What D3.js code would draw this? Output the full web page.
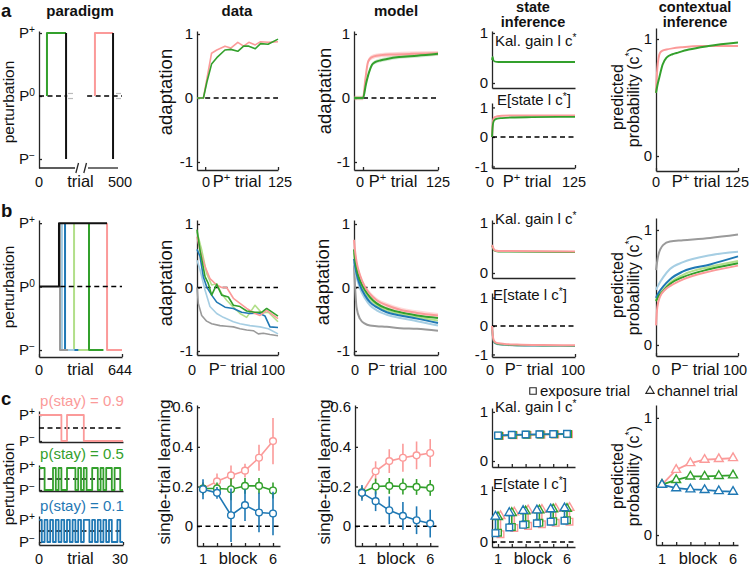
<!DOCTYPE html>
<html><head><meta charset="utf-8">
<script src="https://cdn.jsdelivr.net/npm/d3@7"></script>
<style>
body{margin:0;background:#fff;}
svg{display:block;font-family:"Liberation Sans",Arial,Helvetica,sans-serif;}
.axis .domain,.axis line{stroke:#262626;stroke-width:1.3;}
.axis text{font-size:15px;fill:#111;font-family:"Liberation Sans",Arial,sans-serif;}
</style></head><body>
<script>
// ================= DATA =================
// ---- row a : P+ exposure ----
const parA_greenTrials=[48,48,163], parA_greenVals=[0,1,1];
const parA_pinkTrials=[337,337,446], parA_pinkVals=[0,1,1];
const parA_drop1=[163,163], parA_drop2=[446,446], parA_dropVals=[1,-1];
const parA_dash1=[0,170], parA_dash2=[290,500];
const parA_axisSegs=[[0,217],[295,476]];
const parA_grayMarks=[[175,205],[464,494]];

const dataA_pinkT=[-14,-3,11,20,34,44,56,66,75,86,95,108,125];
const dataA_pinkV=[0,0,0.70,0.75,0.81,0.78,0.87,0.81,0.87,0.83,0.88,0.87,0.88];
const dataA_greenT=[-14,-3,3,11,20,34,44,56,66,75,86,95,108,125];
const dataA_greenV=[0,0,0.25,0.53,0.63,0.75,0.76,0.73,0.81,0.81,0.77,0.85,0.84,0.92];

const modelA_pinkT=[-15,0,4,8,12,18,30,50,80,125];
const modelA_pinkV=[0,0,0.3,0.55,0.62,0.65,0.67,0.68,0.69,0.70];
const modelA_greenT=[-15,0,5,10,15,20,30,40,60,90,125];
const modelA_greenV=[0,0,0.22,0.4,0.52,0.56,0.59,0.61,0.64,0.66,0.69];

const stateA_kalT=[0,1,2,4,10,125];
const stateA_kalGreen=[0.46,0.52,0.46,0.43,0.42,0.42];
const stateA_eT=[0,1,2,4,8,15,30,60,125];
const stateA_ePink=[0,0.45,0.6,0.67,0.7,0.72,0.73,0.73,0.73];
const stateA_eGreen=[0,0.35,0.5,0.58,0.62,0.64,0.66,0.67,0.68];

const ctxA_pinkT=[0,1,2,4,6,10,16,25,40,70,125];
const ctxA_pinkV=[0.54,0.66,0.75,0.84,0.88,0.9,0.91,0.92,0.93,0.94,0.94];
const ctxA_greenT=[0,2,5,10,16,25,31,50,80,125];
const ctxA_greenV=[0.54,0.6,0.67,0.78,0.84,0.87,0.88,0.91,0.94,0.97];

// ---- row b : P- after P+ of varying length (gray, light blue, blue, light green, green, pink) ----
const parB_switch=[163,178,202,272,388,528];
const parB_stop=[225,275,305,380,500,644];
const parB_blackT=[0,155,155,528], parB_blackV=[0,0,1,1];
const parB_dash=[165,644];

const dataB_grayT=[0,1.6,5.8,11.9,18.1,28.4,36.6,44.9,53.1,61.3,69.5,75.7,81.9,90.1,100];
const dataB_grayV=[0,-0.25,-0.44,-0.53,-0.57,-0.6,-0.61,-0.62,-0.65,-0.67,-0.68,-0.73,-0.72,-0.74,-0.76];
const dataB_lblueT=[0,3.7,9.9,16,24.3,32.5,44.9,53.1,65.4,77.8,88.1,100];
const dataB_lblueV=[0.43,0.28,-0.04,-0.3,-0.41,-0.47,-0.54,-0.57,-0.6,-0.62,-0.65,-0.73];
const dataB_blueT=[0,3.7,7.8,11.9,18.1,24.3,34.6,44.9,55.1,65.4,75.7,84,90.1,100];
const dataB_blueV=[0.6,0.49,0.17,0.01,-0.12,-0.23,-0.31,-0.33,-0.39,-0.41,-0.4,-0.45,-0.62,-0.63];
const dataB_lgreenT=[0,5.8,11.9,18.1,24.3,30.5,36.6,44.9,53.1,61.3,71.6,79.8,88.1,100];
const dataB_lgreenV=[0.88,0.59,0.22,0.04,0.06,-0.1,-0.2,-0.31,-0.41,-0.47,-0.28,-0.4,-0.39,-0.54];
const dataB_greenT=[0,3.7,9.9,14,18.1,24.3,30.5,38.7,44.9,53.1,61.3,71.6,79.8,86,100];
const dataB_greenV=[0.91,0.59,0.17,0.06,-0.12,0.05,-0.12,-0.15,-0.28,-0.3,-0.37,-0.39,-0.39,-0.33,-0.45];
const dataB_pinkT=[0,3.7,9.9,16,24.3,30.5,36.6,44.9,53.1,61.3,71.6,77.8,86,100];
const dataB_pinkV=[0.8,0.59,0.33,0.14,0.04,0,0,-0.17,-0.25,-0.33,-0.41,-0.44,-0.36,-0.49];

const modelB_T=[0,1.5,3,7,13,19,27,39,55,75,100];
const modelB_gray=[0.35,-0.04,-0.31,-0.49,-0.57,-0.6,-0.61,-0.62,-0.64,-0.65,-0.68];
const modelB_lblue=[0.4,0.27,0.17,-0.01,-0.17,-0.28,-0.36,-0.43,-0.48,-0.53,-0.6];
const modelB_blue=[0.45,0.32,0.22,0.04,-0.12,-0.23,-0.31,-0.39,-0.44,-0.49,-0.56];
const modelB_lgreen=[0.55,0.38,0.27,0.09,-0.07,-0.18,-0.28,-0.36,-0.42,-0.47,-0.52];
const modelB_green=[0.6,0.42,0.3,0.12,-0.04,-0.15,-0.25,-0.33,-0.39,-0.44,-0.48];
const modelB_pink=[0.75,0.55,0.41,0.2,0.01,-0.1,-0.2,-0.28,-0.35,-0.4,-0.44];

const stateB_kalT=[0,1,2,4,8,100];
const stateB_kalPink=[0.56,0.52,0.48,0.45,0.44,0.43];
const stateB_kalGreen=[0.55,0.51,0.47,0.44,0.43,0.42];
const stateB_eT=[0,1,2,4,8,15,30,60,100];
const stateB_ePink=[0,-0.35,-0.5,-0.57,-0.61,-0.63,-0.65,-0.67,-0.68];
const stateB_eGreen=[0,-0.38,-0.53,-0.6,-0.64,-0.66,-0.68,-0.69,-0.7];
const stateB_eBlue=[0,-0.4,-0.55,-0.62,-0.65,-0.67,-0.69,-0.7,-0.71];

const ctxB_T=[0,2.8,8.9,17,33,66,100];
const ctxB_gray=[0.65,0.78,0.87,0.9,0.91,0.93,0.96];
const ctxB_lblue=[0.48,0.52,0.59,0.66,0.72,0.78,0.81];
const ctxB_blue=[0.41,0.45,0.51,0.57,0.64,0.7,0.77];
const ctxB_lgreen=[0.39,0.43,0.48,0.54,0.61,0.68,0.73];
const ctxB_green=[0.38,0.42,0.47,0.53,0.59,0.66,0.71];
const ctxB_pinkT=[0,1.6,4.9,11,19,33,66,100];
const ctxB_pink=[0.17,0.33,0.42,0.48,0.52,0.57,0.64,0.69];

// ---- row c : volatility (p(stay) = 0.9 pink, 0.5 green, 0.1 blue) ----
const stay09=[1,1,1,1,1,1,1,1,0,0,1,1,1,1,1,1,0,0,0,0,0,0,0,0,0,0,0,0,0,0];
const stay05=[1,1,0,0,0,1,0,1,0,0,1,1,1,0,1,0,1,0,0,1,1,0,1,0,1,1,0,1,1,0];
const stay01=[1,0,1,0,1,0,1,0,1,0,1,0,1,0,1,0,1,1,0,1,0,1,0,1,0,1,0,0,1,0];

const blocks=[1,2,3,4,5,6];
const dataC_pink=[0.19,0.226,0.256,0.28,0.345,0.429];
const dataC_pinkErr=[0.03,0.04,0.05,0.035,0.065,0.117];
const dataC_green=[0.19,0.19,0.186,0.203,0.203,0.18];
const dataC_greenErr=[0.03,0.03,0.055,0.04,0.04,0.04];
const dataC_blue=[0.186,0.168,0.055,0.106,0.069,0.064];
const dataC_blueErr=[0.05,0.03,0.135,0.08,0.1,0.11];

const modelC_pink=[0.168,0.277,0.328,0.345,0.357,0.369];
const modelC_pinkErr=[0.03,0.05,0.06,0.07,0.07,0.07];
const modelC_green=[0.17,0.2,0.203,0.2,0.198,0.193];
const modelC_greenErr=[0.03,0.04,0.04,0.04,0.04,0.04];
const modelC_blue=[0.168,0.126,0.08,0.052,0.03,0.013];
const modelC_blueErr=[0.04,0.05,0.07,0.07,0.07,0.07];

const stateC_kalBlue=[0.52,0.535,0.54,0.545,0.55,0.555];
const stateC_kalGreen=[0.515,0.53,0.535,0.54,0.545,0.55];
const stateC_kalPink=[0.51,0.525,0.53,0.535,0.54,0.545];
const stateC_expBlue=[0.17,0.28,0.33,0.36,0.39,0.41];
const stateC_expGreen=[0.18,0.29,0.34,0.37,0.40,0.42];
const stateC_expPink=[0.15,0.27,0.31,0.34,0.37,0.39];
const stateC_chBlue=[0.49,0.56,0.60,0.61,0.63,0.65];
const stateC_chGreen=[0.48,0.56,0.59,0.61,0.63,0.64];
const stateC_chPink=[0.50,0.57,0.61,0.62,0.64,0.66];

const ctxC_pink=[0.43,0.557,0.614,0.643,0.649,0.657];
const ctxC_green=[0.43,0.47,0.5,0.5,0.505,0.51];
const ctxC_blue=[0.43,0.40,0.39,0.385,0.375,0.37];

// ================= STYLE / HELPERS =================
const cPink="#fb9a99",cGreen="#33a02c",cBlue="#1f78b4",cLBlue="#a6cee3",cLGreen="#b2df8a",cGray="#9a9a9a";
const colorsB=[cGray,cLBlue,cBlue,cLGreen,cGreen,cPink];
const NUM=14.5, WORD=16.5;
const svg=d3.select("body").append("svg").attr("width",750).attr("height",566);

function panel(c){
  const x=d3.scaleLinear().domain(c.xd).range([c.l,c.r]);
  const y=d3.scaleLinear().domain(c.yd).range([c.b,c.t]);
  const g=svg.append("g");
  g.append("g").attr("class","axis").attr("transform",`translate(${c.l},0)`)
    .call(d3.axisLeft(y).tickValues(c.yt||[]).tickSize(-3).tickSizeOuter(0).tickPadding(4)
      .tickFormat(c.noYLab?()=>"":d=>String(d)));
  if(!c.noX) g.append("g").attr("class","axis").attr("transform",`translate(0,${c.b})`)
    .call(d3.axisBottom(x).tickValues(c.xt||[]).tickSize(-3).tickSizeOuter(0).tickFormat(()=>""));
  return {x,y,g};
}
function line(p,xs,ys,color,w,o={}){
  const gen=d3.line().x((d,i)=>p.x(xs[i])+(o.dx||0)).y((d,i)=>p.y(ys[i])+(o.dy||0));
  if(o.curve) gen.curve(o.curve);
  return p.g.append("path").attr("d",gen(xs)).attr("fill","none").attr("stroke",color)
    .attr("stroke-width",w).attr("stroke-dasharray",o.dash||null).attr("stroke-linejoin","round")
    .attr("opacity",o.op||1);
}
function band(p,xs,ys,hw,color,op){
  const gen=d3.area().x((d,i)=>p.x(xs[i])).y0((d,i)=>p.y(ys[i]-hw)).y1((d,i)=>p.y(ys[i]+hw)).curve(d3.curveMonotoneX);
  p.g.append("path").attr("d",gen(xs)).attr("fill",color).attr("opacity",op);
}
function zero(p,x0,x1){line(p,[x0,x1],[0,0],"#000",1.5,{dash:"5,3.5"});}
function label(x,y,parts,o={}){
  const size=o.size||14;
  const t=svg.append("text").attr("x",x).attr("y",y).attr("font-size",size)
    .attr("text-anchor",o.anchor||"middle").attr("font-weight",o.bold?"bold":null)
    .attr("fill",o.color||"#111");
  if(o.rot) t.attr("transform",`rotate(-90 ${x} ${y})`);
  (Array.isArray(parts)?parts:[parts]).forEach(s=>{
    if(typeof s==="string") t.append("tspan").text(s);
    else t.append("tspan").attr("baseline-shift","super").attr("font-size",size*0.68).text(s.s);
  });
  return t;
}
function markers(p,type,size,xs,ys,color,dx=0){
  p.g.selectAll(null).data(xs).enter().append("path")
    .attr("d",d3.symbol(type,size))
    .attr("transform",(d,i)=>`translate(${p.x(xs[i])+dx},${p.y(ys[i])})`)
    .attr("fill","#fff").attr("stroke",color).attr("stroke-width",1.4);
}
function errbars(p,xs,ys,es,color){
  xs.forEach((b,i)=>{
    p.g.append("line").attr("x1",p.x(b)).attr("x2",p.x(b))
      .attr("y1",p.y(ys[i]-es[i])).attr("y2",p.y(ys[i]+es[i]))
      .attr("stroke",color).attr("stroke-width",1.6);
  });
}
function xlabels(items,y){
  items.forEach(it=>label(it.x,y,it.t,{size:it.big?WORD:NUM}));
}
const PP=["P",{s:"+"}], PM=["P",{s:"\u2212"}], P0=["P",{s:"0"}];
function pLabels(p,vals,labs){vals.forEach((v,i)=>label(35,p.y(v)+5,labs[i],{anchor:"end",size:15}));}

// ================= TITLES =================
label(1,16.5,"a",{anchor:"start",bold:true,size:18.5});
label(1,216.5,"b",{anchor:"start",bold:true,size:18.5});
label(1,405,"c",{anchor:"start",bold:true,size:18.5});
label(80,15.5,"paradigm",{bold:true,size:15});
label(237,15.5,"data",{bold:true,size:15});
label(396,15.5,"model",{bold:true,size:15});
label(533,11.5,"state",{bold:true,size:14.5});
label(533,27,"inference",{bold:true,size:14.5});
label(695,11.5,"contextual",{bold:true,size:14.5});
label(695,27,"inference",{bold:true,size:14.5});

// ================= ROW A =================
const pA=panel({l:39,r:122,xd:[0,500],b:168,t:31,yd:[-1.143,1.032],yt:[-1,0,1],noYLab:true,noX:true});
parA_axisSegs.forEach(s=>line(pA,s,[-1.143,-1.143],"#262626",1.3));
[[222,238],[270,286]].forEach(s=>pA.g.append("line").attr("x1",pA.x(s[0])).attr("x2",pA.x(s[1]))
  .attr("y1",173).attr("y2",163).attr("stroke","#262626").attr("stroke-width",1.3));
line(pA,parA_dash1,[0,0],"#000",1.5,{dash:"5,3.5"});
line(pA,parA_dash2,[0,0],"#000",1.5,{dash:"5,3.5"});
parA_grayMarks.forEach(s=>{line(pA,s,[0.04,0.04],"#bbb",1.2);line(pA,s,[-0.04,-0.04],"#bbb",1.2);});
line(pA,parA_greenTrials,parA_greenVals,cGreen,2);
line(pA,parA_pinkTrials,parA_pinkVals,cPink,2);
line(pA,parA_drop1,parA_dropVals,"#111",2);
line(pA,parA_drop2,parA_dropVals,"#111",2);
pLabels(pA,[1,0,-1],[PP,P0,PM]);
label(14,102,"perturbation",{rot:true,size:15.5});
xlabels([{x:39,t:"0"},{x:80.5,t:"trial",big:1},{x:120,t:"500"}],186.5);

const dA=panel({l:197,r:278,xd:[-14,125],b:170,t:31,yd:[-1.125,1.047],yt:[-1,0,1],xt:[0,125]});
zero(dA,0,125);
line(dA,dataA_pinkT,dataA_pinkV,cPink,1.6);
line(dA,dataA_greenT,dataA_greenV,cGreen,1.6);
label(172,92,"adaptation",{rot:true,size:18.5});
xlabels([{x:206,t:"0"},{x:237,t:["P",{s:"+"}," trial"],big:1},{x:280,t:"125"}],186.5);

const mA=panel({l:354,r:438,xd:[-15,125],b:170,t:31,yd:[-1.125,1.047],yt:[-1,0,1],xt:[0,125]});
zero(mA,0,125);
band(mA,modelA_pinkT,modelA_pinkV,0.035,cPink,0.4);
band(mA,modelA_greenT,modelA_greenV,0.03,cGreen,0.2);
line(mA,modelA_pinkT,modelA_pinkV,cPink,2,{curve:d3.curveMonotoneX});
line(mA,modelA_greenT,modelA_greenV,cGreen,2,{curve:d3.curveMonotoneX});
label(331,91,"adaptation",{rot:true,size:18.5});
xlabels([{x:360,t:"0"},{x:393,t:["P",{s:"+"}," trial"],big:1},{x:438,t:"125"}],186.5);

const sA1=panel({l:492,r:575,xd:[0,125],b:88,t:31,yd:[-0.1,1.04],yt:[0,1]});
line(sA1,stateA_kalT,stateA_kalGreen,cGreen,1.8,{curve:d3.curveMonotoneX});
label(495,46,["Kal. gain l c",{s:"*"}],{anchor:"start",size:15});
const sA2=panel({l:492,r:575,xd:[0,125],b:168,t:103,yd:[-1.05,1.15],yt:[-1,0,1],xt:[0,125]});
zero(sA2,0,125);
line(sA2,stateA_eT,stateA_ePink,cPink,2,{curve:d3.curveMonotoneX});
line(sA2,stateA_eT,stateA_eGreen,cGreen,1.8,{curve:d3.curveMonotoneX});
label(497,104.5,["E[state l c",{s:"*"},"]"],{anchor:"start",size:15});
xlabels([{x:490,t:"0"},{x:527,t:["P",{s:"+"}," trial"],big:1},{x:574,t:"125"}],186.5);

const cA=panel({l:656,r:738,xd:[0,125],b:171,t:28,yd:[-0.128,1.094],yt:[0,1],xt:[0,125]});
line(cA,ctxA_pinkT,ctxA_pinkV,cPink,2,{curve:d3.curveMonotoneX});
line(cA,ctxA_greenT,ctxA_greenV,cGreen,2,{curve:d3.curveMonotoneX});
label(623,97,"predicted",{rot:true,size:16});
label(639,97,["probability (c",{s:"*"},")"],{rot:true,size:16});
xlabels([{x:656,t:"0"},{x:696,t:["P",{s:"+"}," trial"],big:1},{x:737,t:"125"}],186.5);

// ================= ROW B =================
const pB=panel({l:39,r:122,xd:[0,644],b:357,t:220,yd:[-1.11,1.05],yt:[-1,0,1],noYLab:true,xt:[0,644]});
for(let k=colorsB.length-1;k>=0;k--){
  line(pB,[parB_switch[k],parB_switch[k],parB_stop[k]],[1,-1,-1],colorsB[k],2);
}
line(pB,parB_blackT,parB_blackV,"#111",2);
line(pB,parB_dash,[0,0],"#000",1.5,{dash:"5,3.5"});
pLabels(pB,[1,0,-1],[PP,P0,PM]);
label(14,287,"perturbation",{rot:true,size:15.5});
xlabels([{x:39,t:"0"},{x:80.5,t:"trial",big:1},{x:120,t:"644"}],375);

const dB=panel({l:197,r:278,xd:[0,100],b:355,t:220,yd:[-1.063,1.063],yt:[-1,0,1],xt:[0,100]});
zero(dB,0,100);
const dataB_T=[dataB_grayT,dataB_lblueT,dataB_blueT,dataB_lgreenT,dataB_greenT,dataB_pinkT];
const dataB_V=[dataB_grayV,dataB_lblueV,dataB_blueV,dataB_lgreenV,dataB_greenV,dataB_pinkV];
[0,1,3,2,5,4].forEach(k=>line(dB,dataB_T[k],dataB_V[k],colorsB[k],1.6));
label(172,283,"adaptation",{rot:true,size:18.5});
xlabels([{x:192,t:"0"},{x:233,t:["P",{s:"\u2212"}," trial"],big:1},{x:273,t:"100"}],375);

const mB=panel({l:354,r:438,xd:[0,100],b:355,t:220,yd:[-1.063,1.063],yt:[-1,0,1],xt:[0,100]});
zero(mB,0,100);
band(mB,modelB_T,modelB_pink,0.04,cPink,0.35);
const modelB_V=[modelB_gray,modelB_lblue,modelB_blue,modelB_lgreen,modelB_green,modelB_pink];
[0,1,3,2,4,5].forEach(k=>line(mB,modelB_T,modelB_V[k],colorsB[k],2,{curve:d3.curveMonotoneX}));
label(329,282,"adaptation",{rot:true,size:18.5});
xlabels([{x:355,t:"0"},{x:392,t:["P",{s:"\u2212"}," trial"],big:1},{x:435,t:"100"}],375);

const sB1=panel({l:492,r:575,xd:[0,100],b:278,t:220,yd:[-0.1,1.06],yt:[0,1]});
line(sB1,stateB_kalT,stateB_kalGreen,cGreen,1.8,{curve:d3.curveMonotoneX});
line(sB1,stateB_kalT,stateB_kalPink,cPink,2,{curve:d3.curveMonotoneX});
label(495,224,["Kal. gain l c",{s:"*"}],{anchor:"start",size:15});
const sB2=panel({l:492,r:575,xd:[0,100],b:357,t:293,yd:[-1.09,1.16],yt:[-1,0,1],xt:[0,100]});
zero(sB2,0,100);
line(sB2,stateB_eT,stateB_eBlue,cBlue,1.6,{curve:d3.curveMonotoneX,op:0.6});
line(sB2,stateB_eT,stateB_eGreen,cGreen,1.6,{curve:d3.curveMonotoneX,op:0.7});
line(sB2,stateB_eT,stateB_ePink,cPink,2,{curve:d3.curveMonotoneX});
label(493,300,["E[state l c",{s:"*"},"]"],{anchor:"start",size:15});
xlabels([{x:490,t:"0"},{x:529,t:["P",{s:"\u2212"}," trial"],big:1},{x:573,t:"100"}],375);

const cB=panel({l:656,r:738,xd:[0,100],b:356,t:218,yd:[-0.096,1.104],yt:[0,1],xt:[0,100]});
const ctxB_V=[ctxB_gray,ctxB_lblue,ctxB_blue,ctxB_lgreen,ctxB_green];
[0,1,3,2,4].forEach(k=>line(cB,ctxB_T,ctxB_V[k],colorsB[k],2,{curve:d3.curveMonotoneX}));
line(cB,ctxB_pinkT,ctxB_pink,cPink,2,{curve:d3.curveMonotoneX});
label(623,285,"predicted",{rot:true,size:16});
label(639,285,["probability (c",{s:"*"},")"],{rot:true,size:16});
xlabels([{x:656,t:"0"},{x:695,t:["P",{s:"\u2212"}," trial"],big:1},{x:735,t:"100"}],375);

// ================= ROW C =================
const seqs=[stay09,stay05,stay01], seqCol=[cPink,cGreen,cBlue];
const seqBox=[{b:442,t:411,yd:[-0.038,1.154]},{b:491,t:465,yd:[-0.045,1.136]},{b:545,t:516,yd:[-0.136,1.18]}];
const seqTitleY=[406,459,511], seqTitle=["p(stay) = 0.9","p(stay) = 0.5","p(stay) = 0.1"];
seqs.forEach((s,k)=>{
  const p=panel({l:39,r:123,xd:[0,30],b:seqBox[k].b,t:seqBox[k].t,yd:seqBox[k].yd,yt:[0,1],noYLab:true,xt:k===2?[0,30]:[]});
  line(p,[0,30],[0.5,0.5],"#000",1.5,{dash:"5,3.5"});
  const xs=d3.range(31), ys=xs.map(i=>s[Math.min(i,29)]);
  line(p,xs,ys,seqCol[k],1.8,{curve:d3.curveStepAfter});
  pLabels(p,[1,0],[PP,PM]);
  label(82,seqTitleY[k],seqTitle[k],{size:15,color:seqCol[k]});
});
label(14,484,"perturbation",{rot:true,size:15.5});
xlabels([{x:39,t:"0"},{x:80.5,t:"trial",big:1},{x:120,t:"30"}],564);

const dC=panel({l:197,r:280,xd:[0.571,6.5],b:546,t:405,yd:[-0.1,0.611],yt:[0,0.2,0.4,0.6],xt:blocks});
zero(dC,0.571,6.5);
[[dataC_pink,dataC_pinkErr,cPink],[dataC_green,dataC_greenErr,cGreen],[dataC_blue,dataC_blueErr,cBlue]].forEach(s=>{
  errbars(dC,blocks,s[0],s[1],s[2]);
  line(dC,blocks,s[0],s[2],1.6);
  markers(dC,d3.symbolCircle,36,blocks,s[0],s[2]);
});
label(169.5,472,"single-trial learning",{rot:true,size:17.3});
xlabels([{x:dC.x(1),t:"1"},{x:238,t:"block",big:1},{x:dC.x(6),t:"6"}],564);

const mC=panel({l:355,r:438,xd:[0.49,6.57],b:546,t:405,yd:[-0.1,0.611],yt:[0,0.2,0.4,0.6],xt:blocks});
zero(mC,0.49,6.57);
[[modelC_pink,modelC_pinkErr,cPink],[modelC_green,modelC_greenErr,cGreen],[modelC_blue,modelC_blueErr,cBlue]].forEach(s=>{
  errbars(mC,blocks,s[0],s[1],s[2]);
  line(mC,blocks,s[0],s[2],1.6);
  markers(mC,d3.symbolCircle,36,blocks,s[0],s[2]);
});
label(329.5,472,"single-trial learning",{rot:true,size:17.3});
xlabels([{x:mC.x(1),t:"1"},{x:396,t:"block",big:1},{x:mC.x(6),t:"6"}],564);

svg.append("path").attr("d",d3.symbol(d3.symbolSquare,42)).attr("transform","translate(533,391)")
  .attr("fill","#fff").attr("stroke","#262626").attr("stroke-width",1.1);
label(540,396,"exposure trial",{anchor:"start",size:15});
svg.append("path").attr("d",d3.symbol(d3.symbolTriangle,30)).attr("transform","translate(650,391)")
  .attr("fill","#fff").attr("stroke","#262626").attr("stroke-width",1.1);
label(657,396,"channel trial",{anchor:"start",size:15});

const sC1=panel({l:492,r:575,xd:[0.565,6.58],b:467,t:408,yd:[-0.122,1.08],yt:[0,1],xt:blocks});
[[stateC_kalPink,cPink,2],[stateC_kalGreen,cGreen,1],[stateC_kalBlue,cBlue,0]].forEach(s=>{
  line(sC1,blocks,s[0],s[1],1.6,{dx:s[2]});
  markers(sC1,d3.symbolSquare,44,blocks,s[0],s[1],s[2]);
});
label(495,412,["Kal. gain l c",{s:"*"}],{anchor:"start",size:15});

const sC2=panel({l:492,r:575,xd:[0.565,6.58],b:547,t:486,yd:[-0.096,1.077],yt:[0,1],xt:blocks});
zero(sC2,0.565,6.58);
[[stateC_expPink,stateC_chPink,cPink,2.5],[stateC_expGreen,stateC_chGreen,cGreen,0],[stateC_expBlue,stateC_chBlue,cBlue,-2.5]].forEach(s=>{
  blocks.forEach((b,i)=>{
    sC2.g.append("line").attr("x1",sC2.x(b)+s[3]).attr("x2",sC2.x(b)+s[3])
      .attr("y1",sC2.y(s[0][i])-3).attr("y2",sC2.y(s[1][i])+2).attr("stroke",s[2]).attr("stroke-width",1.6);
  });
  markers(sC2,d3.symbolSquare,44,blocks,s[0],s[2],s[3]);
  markers(sC2,d3.symbolTriangle,34,blocks,s[1],s[2],s[3]);
});
label(493,489,["E[state l c",{s:"*"},"]"],{anchor:"start",size:15});
xlabels([{x:sC2.x(1),t:"1"},{x:533,t:"block",big:1},{x:sC2.x(6),t:"6"}],564);

const cC=panel({l:656,r:738,xd:[0.58,6.35],b:545,t:405,yd:[-0.085,1.11],yt:[0,1],xt:blocks});
[[ctxC_pink,cPink],[ctxC_green,cGreen],[ctxC_blue,cBlue]].forEach(s=>{
  line(cC,blocks,s[0],s[1],1.8);
  markers(cC,d3.symbolTriangle,34,blocks,s[0],s[1]);
});
label(623,476,"predicted",{rot:true,size:16});
label(639,476,["probability (c",{s:"*"},")"],{rot:true,size:16});
xlabels([{x:cC.x(1),t:"1"},{x:698,t:"block",big:1},{x:cC.x(6),t:"6"}],564);
</script></body></html>
